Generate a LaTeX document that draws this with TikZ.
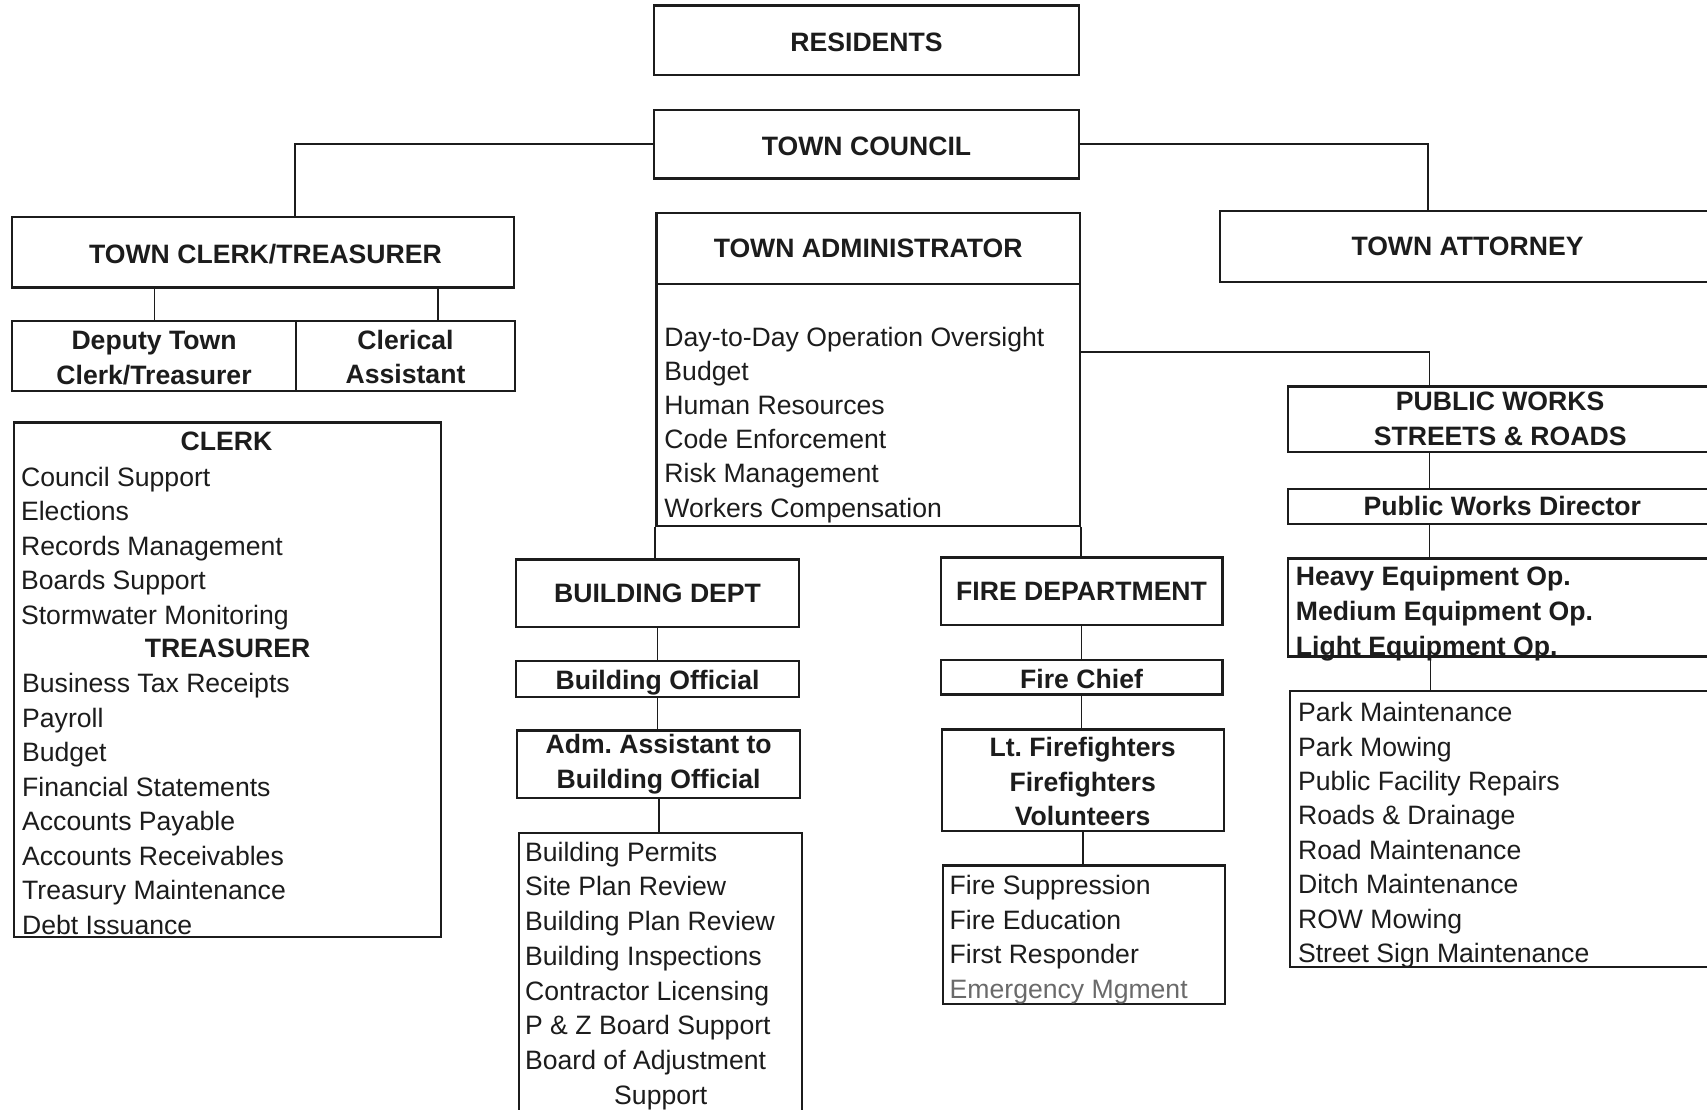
\documentclass[tikz,border=0pt]{standalone}
\usepackage{fontspec}
\setmainfont{Liberation Sans}
\usetikzlibrary{fit}
\definecolor{ink}{HTML}{1C1C1C}
\definecolor{grayink}{HTML}{6A6A6A}
\begin{document}
\begin{tikzpicture}[x=0.5443pt, y=-0.5443pt,
  every node/.style={font=\fontsize{13.3}{17.2}\selectfont, text=ink},
  box/.style={draw=ink, line width=1.1pt, inner sep=0pt},
  hdt/.style={inner sep=0pt, font=\fontsize{13.3}{17.4}\selectfont\bfseries, align=center},
  item/.style={anchor=base west, inner sep=0pt},
  bitem/.style={item, font=\fontsize{13.3}{17.2}\selectfont\bfseries},
  link/.style={draw=ink, line width=0.9pt}]
\fill[white] (0,0) rectangle (1568,1019);
\useasboundingbox (0,0) rectangle (1568,1019);
\clip (0,0) rectangle (1568,1019);

% top level
\node[box, fit={(601,5) (991,69)}] (res) {};
\node[hdt] (resT) at ([yshift=-1pt]res.center) {RESIDENTS};
\node[box, fit={(601,101) (991,164)}] (tc) {};
\node[hdt] (tcT) at ([yshift=-1pt]tc.center) {TOWN COUNCIL};

% clerk branch
\node[box, fit={(11,199) (472,264)}] (clerk) {};
\node[hdt] (clerkT) at ([xshift=1.3pt,yshift=-1pt]clerk.center) {TOWN CLERK/TREASURER};
\node[box, fit={(11,295) (272,359)}] (dep) {};
\node[hdt] (depT) at ([yshift=-1pt]dep.center) {Deputy Town\\Clerk/Treasurer};
\node[box, fit={(272,295) (473,359)}] (cler) {};
\node[hdt] (clerT) at ([yshift=-0.5pt]cler.center) {Clerical\\Assistant};
\node[box, fit={(13,388) (405,861)}] (clist) {};
\node[bitem, anchor=base] (clh) at (208,414) {CLERK};
\node[bitem, anchor=base] (trh) at (209,{414+6*31.64}) {TREASURER};
\foreach \t [count=\k] in {Council Support,Elections,Records Management,Boards Support,Stormwater Monitoring}
  \node[item] (ck\k) at (19,{415+\k*31.64}) {\t};
\foreach \t [count=\k from 7] in {Business Tax Receipts,Payroll,Budget,Financial Statements,Accounts Payable,Accounts Receivables,Treasury Maintenance,Debt Issuance}
  \node[item] (tr\k) at (20,{415+\k*31.64}) {\t};

% administrator
\node[box, fit={(603,196) (992,261)}] (adm) {};
\node[hdt] (admT) at (adm.center) {TOWN ADMINISTRATOR};
\node[box, fit={(603,261) (992,483)}] (admlist) {};
\foreach \t [count=\k from 0] in {Day-to-Day Operation Oversight,Budget,Human Resources,Code Enforcement,Risk Management,Workers Compensation}
  \node[item] (ad\k) at (610,{318+\k*31.4}) {\t};

% attorney
\node[box, fit={(1121,194) (1575,259)}] (att) {};
\node[hdt] (attT) at (att.center) {TOWN ATTORNEY};

% building
\node[box, fit={(474,514) (734,576)}] (bld) {};
\node[hdt] (bldT) at (bld.center) {BUILDING DEPT};
\node[box, fit={(474,607) (734,640)}] (bof) {};
\node[hdt] (bofT) at ([yshift=-2pt]bof.center) {Building Official};
\node[box, fit={(475,671) (735,733)}] (bas) {};
\node[hdt] (basT) at (bas.center) {Adm.\ Assistant to\\Building Official};
\node[box, fit={(477,765) (737,1030)}] (blist) {};
\foreach \t [count=\k from 0] in {Building Permits,Site Plan Review,Building Plan Review,Building Inspections,Contractor Licensing,P \& Z Board Support,Board of Adjustment}
  \node[item] (bl\k) at (482,{791+\k*31.9}) {\t};
\node[item, anchor=base] (bl7) at (607,{791+7*31.9}) {Support};

% fire
\node[box, fit={(864,512) (1123,574)}] (fire) {};
\node[hdt] (fireT) at (fire.center) {FIRE DEPARTMENT};
\node[box, fit={(864,606) (1123,638)}] (chief) {};
\node[hdt] (chiefT) at ([yshift=-0.8pt]chief.center) {Fire Chief};
\node[box, fit={(865,670) (1124,763)}] (lt) {};
\node[hdt] (ltT) at ([yshift=-0.8pt]lt.center) {Lt.\ Firefighters\\Firefighters\\Volunteers};
\node[box, fit={(866,795) (1125,922)}] (flist) {};
\foreach \t [count=\k from 0] in {Fire Suppression,Fire Education,First Responder}
  \node[item] (fl\k) at (872,{822+\k*31.7}) {\t};
\node[item, text=grayink] (fl3) at (872,{822+3*31.7}) {Emergency Mgment};

% public works
\node[box, fit={(1183,355) (1573,415)}] (pw) {};
\node[hdt] (pwT) at (pw.center) {PUBLIC WORKS\\STREETS \& ROADS};
\node[box, fit={(1183,449) (1577,481)}] (pwd) {};
\node[hdt] (pwdT) at (pwd.center) {Public Works Director};
\node[box, fit={(1183,513) (1580,603)}] (eq) {};
\foreach \t [count=\k from 0] in {Heavy Equipment Op.,Medium Equipment Op.,Light Equipment Op.}
  \node[bitem] (eq\k) at (1190,{538+\k*32}) {\t};
\node[box, fit={(1185,635) (1580,888)}] (park) {};
\foreach \t [count=\k from 0] in {Park Maintenance,Park Mowing,Public Facility Repairs,Roads \& Drainage,Road Maintenance,Ditch Maintenance,ROW Mowing,Street Sign Maintenance}
  \node[item] (pk\k) at (1192,{663+\k*31.6}) {\t};

% connectors
\draw[link] (tc.west) -| (271,0 |- clerk.north);
\draw[link] (tc.east) -| (1312,0 |- att.north);
\draw[link] (142,0 |- clerk.south) -- (142,0 |- dep.north);
\draw[link] (402,0 |- clerk.south) -- (402,0 |- cler.north);
\draw[link] (admlist.east |- 0,323) -| (1313,0 |- pw.north);
\draw[link] (admlist.south west) -- (admlist.south west |- bld.north);
\draw[link] (admlist.south east) -- (admlist.south east |- fire.north);
\draw[link] (bld.south) -- (bof.north);
\draw[link] (bof.south) -- (bof.south |- bas.north);
\draw[link] (bas.south) -- (bas.south |- blist.north);
\draw[link] (fire.south) -- (chief.north);
\draw[link] (chief.south) -- (chief.south |- lt.north);
\draw[link] (lt.south) -- (lt.south |- flist.north);
\draw[link] (1313,0 |- pw.south) -- (1313,0 |- pwd.north);
\draw[link] (1313,0 |- pwd.south) -- (1313,0 |- eq.north);
\draw[link] (1314,0 |- eq.south) -- (1314,0 |- park.north);
\end{tikzpicture}
\end{document}
